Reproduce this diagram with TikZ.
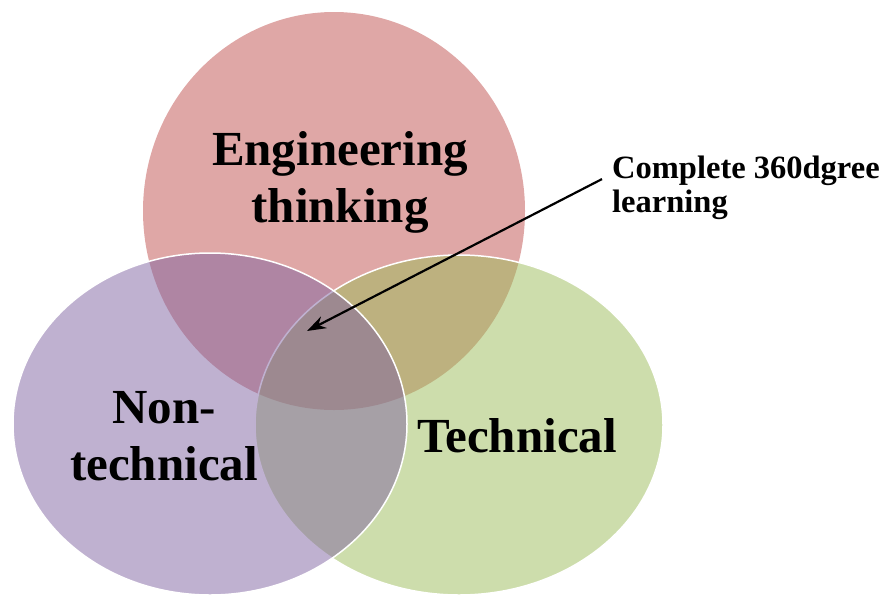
\documentclass[tikz,border=0pt]{standalone}
\usepackage{fontspec}
\setmainfont{Liberation Serif}
\usetikzlibrary{arrows.meta}
\definecolor{engineeringColor}{HTML}{C0504D}
\definecolor{nonTechColor}{HTML}{8064A2}
\definecolor{techColor}{HTML}{9BBB59}

\begin{document}
\begin{tikzpicture}[x=1pt, y=-1pt,
    circ/.style={fill opacity=0.5},
    rim/.style={circ, draw=white, line width=1.5pt},
    big/.style={font=\bfseries\fontsize{49}{57}\selectfont, align=center},
    small/.style={font=\bfseries\fontsize{32.5}{34}\selectfont, align=left, inner sep=0pt}]
          \useasboundingbox (0,0) rectangle (882,595);
          \fill[engineeringColor, circ] (334,211) ellipse (191pt and 199pt);
          \draw[fill=techColor, rim] (459,425) ellipse (204pt and 170pt);
          \draw[fill=nonTechColor, rim] (210,424) ellipse (197pt and 171pt);
          \node[big] (eng) at (340,182) {Engineering\\thinking};
          \node[big] (nontech) at (164,436) {Non-\\technical};
          \node[big] (tech) at (517,436) {Technical};
          \node[small, anchor=north west] (note) at (612,156) {Complete 360dgree\\learning};
          \coordinate (core) at (307,331);
          \draw[-{Stealth[length=19pt,width=13pt]}, line width=2.2pt] ([xshift=-10pt,yshift=9pt]note.west) -- (core);
        \end{tikzpicture}
\end{document}
